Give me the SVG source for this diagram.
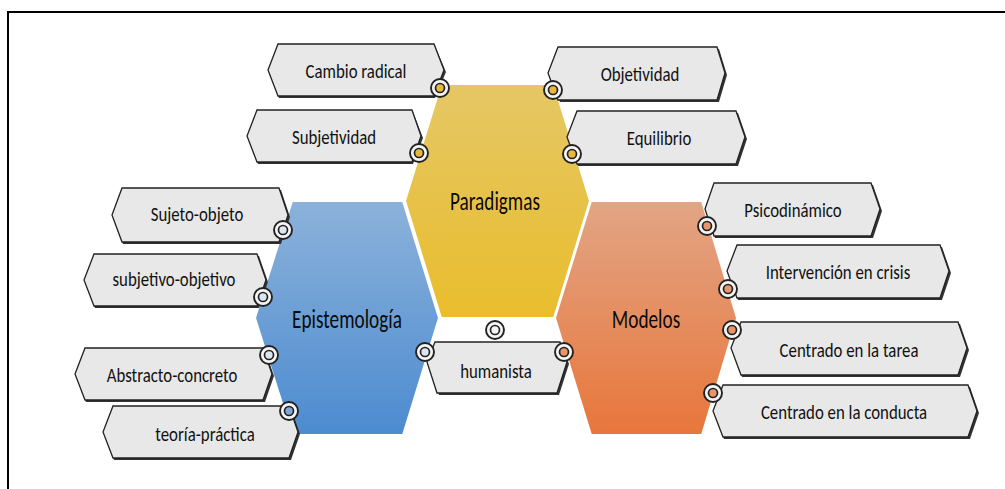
<svg xmlns="http://www.w3.org/2000/svg" width="1005" height="489" viewBox="0 0 1005 489">
<defs>
<linearGradient id="gY" x1="0" y1="0" x2="0" y2="1"><stop offset="0" stop-color="#E5C765"/><stop offset="1" stop-color="#E9BD2C"/></linearGradient>
<linearGradient id="gB" x1="0" y1="0" x2="0" y2="1"><stop offset="0" stop-color="#8CB2DA"/><stop offset="1" stop-color="#4C8BD0"/></linearGradient>
<linearGradient id="gO" x1="0" y1="0" x2="0" y2="1"><stop offset="0" stop-color="#E2A585"/><stop offset="1" stop-color="#E8763B"/></linearGradient>
<style>
.hex{stroke:#fff;stroke-width:2}
.sh{fill:#333}
.bx{fill:#E8E8E8;stroke:#222;stroke-width:1.3}
.lb{font-family:Carlito,"Liberation Sans Narrow","DejaVu Sans Condensed","Liberation Sans",sans-serif;font-size:20.5px;fill:#111;text-anchor:middle;dominant-baseline:central}
.ht{font-family:Carlito,"Liberation Sans Narrow","DejaVu Sans Condensed","Liberation Sans",sans-serif;font-size:26px;fill:#0a0a0a;text-anchor:middle;dominant-baseline:central}
.co{fill:#F4F4F4;stroke:#222;stroke-width:1.9}
.ci{stroke:#222;stroke-width:1.7}
</style>
</defs>
<rect x="0" y="0" width="1005" height="489" fill="#fff"/>
<rect x="8" y="12" width="1010" height="490" fill="none" stroke="#000" stroke-width="2"/>

<g id="paradigmas">
<polygon class="hex" fill="url(#gY)" points="405,201 441,84 554,84 590,201 554,318 441,318"/>
<text class="ht" transform="translate(495,201) scale(0.74,1)">Paradigmas</text>
</g>
<g id="epistemologia">
<polygon class="hex" fill="url(#gB)" points="255,318 292,201 403,201 439,318 403,435 292,435"/>
<text class="ht" transform="translate(347,319) scale(0.74,1)">Epistemología</text>
</g>
<g id="modelos">
<polygon class="hex" fill="url(#gO)" points="555,318 591,201 702,201 737,318 702,435 591,435"/>
<text class="ht" transform="translate(646,319) scale(0.74,1)">Modelos</text>
</g>

<g id="connectors">
<g id="n-cambio"><polygon class="sh" points="279,46 435,46 446,72 435,98 279,98 270,72"/><polygon class="bx" points="278,44 434,44 444,70 434,96 278,96 268,70"/><text class="lb" transform="translate(356,71) scale(0.82,1)">Cambio radical</text></g>
<g id="n-subjetividad"><polygon class="sh" points="258,112 413,112 423,138 413,164 258,164 249,138"/><polygon class="bx" points="257,110 412,110 421,136 412,162 257,162 247,136"/><text class="lb" transform="translate(334,137) scale(0.82,1)">Subjetividad</text></g>
<g id="n-objetividad"><polygon class="sh" points="560,49 719,49 727,75 719,102 560,102 550,75"/><polygon class="bx" points="558,47 717,47 725,73 717,100 558,100 548,73"/><text class="lb" transform="translate(640,74) scale(0.82,1)">Objetividad</text></g>
<g id="n-equilibrio"><polygon class="sh" points="578,113 738,113 747,139 738,166 578,166 569,139"/><polygon class="bx" points="577,111 736,111 745,137 736,164 577,164 567,137"/><text class="lb" transform="translate(659,138) scale(0.82,1)">Equilibrio</text></g>
<g id="n-sujeto"><polygon class="sh" points="123,190 281,190 290,217 281,244 123,244 114,217"/><polygon class="bx" points="122,188 279,188 288,215 279,242 122,242 112,215"/><text class="lb" transform="translate(197,214) scale(0.82,1)">Sujeto-objeto</text></g>
<g id="n-subjetivo"><polygon class="sh" points="95,256 259,256 268,282 259,308 95,308 86,282"/><polygon class="bx" points="94,254 257,254 266,280 257,306 94,306 84,280"/><text class="lb" transform="translate(174,279) scale(0.82,1)">subjetivo-objetivo</text></g>
<g id="n-abstracto"><polygon class="sh" points="86,350 265,350 274,376 265,402 86,402 77,376"/><polygon class="bx" points="85,348 263,348 272,374 263,400 85,400 75,374"/><text class="lb" transform="translate(172,375) scale(0.82,1)">Abstracto-concreto</text></g>
<g id="n-teoria"><polygon class="sh" points="114,408 291,408 300,434 291,460 114,460 105,434"/><polygon class="bx" points="113,406 289,406 298,432 289,458 113,458 103,432"/><text class="lb" transform="translate(205,434) scale(0.82,1)">teoría-práctica</text></g>
<g id="n-humanista"><polygon class="sh" points="437,344 562,344 569,364 559,395 439,395 429,364"/><polygon class="bx" points="435,342 560,342 567,362 557,393 437,393 427,362"/><text class="lb" transform="translate(496,371) scale(0.82,1)">humanista</text></g>
<g id="n-psico"><polygon class="sh" points="715,185 873,185 882,211 873,238 715,238 707,211"/><polygon class="bx" points="714,183 871,183 880,209 871,236 714,236 705,209"/><text class="lb" transform="translate(793,210) scale(0.82,1)">Psicodinámico</text></g>
<g id="n-intervencion"><polygon class="sh" points="738,247 942,247 951,273 942,300 738,300 729,273"/><polygon class="bx" points="737,245 940,245 949,271 940,298 737,298 727,271"/><text class="lb" transform="translate(838,272) scale(0.82,1)">Intervención en crisis</text></g>
<g id="n-tarea"><polygon class="sh" points="742,324 960,324 969,350 960,377 742,377 733,350"/><polygon class="bx" points="741,322 958,322 967,348 958,375 741,375 731,348"/><text class="lb" transform="translate(849,350) scale(0.82,1)">Centrado en la tarea</text></g>
<g id="n-conducta"><polygon class="sh" points="724,387 970,387 979,413 970,439 724,439 715,413"/><polygon class="bx" points="723,385 968,385 977,411 968,437 723,437 713,411"/><text class="lb" transform="translate(844,412) scale(0.82,1)">Centrado en la conducta</text></g>

<g id="dots">
<circle class="co" cx="440" cy="88" r="9"/><circle class="ci" cx="440" cy="88" r="4.5" fill="#E8B83A"/>
<circle class="co" cx="419" cy="153" r="9"/><circle class="ci" cx="419" cy="153" r="4.5" fill="#E8B83A"/>
<circle class="co" cx="553" cy="90" r="9"/><circle class="ci" cx="553" cy="90" r="4.5" fill="#E8B83A"/>
<circle class="co" cx="572" cy="154" r="9"/><circle class="ci" cx="572" cy="154" r="4.5" fill="#E8B83A"/>
<circle class="co" cx="283" cy="230" r="9"/><circle class="ci" cx="283" cy="230" r="4.5" fill="#DDE6F0"/>
<circle class="co" cx="263" cy="297" r="9"/><circle class="ci" cx="263" cy="297" r="4.5" fill="#DDE6F0"/>
<circle class="co" cx="269" cy="355" r="9"/><circle class="ci" cx="269" cy="355" r="4.5" fill="#DDE6F0"/>
<circle class="co" cx="289" cy="411" r="9"/><circle class="ci" cx="289" cy="411" r="4.5" fill="#7FA8D6"/>
<circle class="co" cx="425" cy="352" r="9"/><circle class="ci" cx="425" cy="352" r="4.5" fill="#DDE6F0"/>
<circle class="co" cx="495" cy="330" r="9"/><circle class="ci" cx="495" cy="330" r="4.5" fill="#F4F4F4"/>
<circle class="co" cx="564" cy="352" r="9"/><circle class="ci" cx="564" cy="352" r="4.5" fill="#E8956A"/>
<circle class="co" cx="707" cy="226" r="9"/><circle class="ci" cx="707" cy="226" r="4.5" fill="#E8956A"/>
<circle class="co" cx="728" cy="289" r="9"/><circle class="ci" cx="728" cy="289" r="4.5" fill="#E8956A"/>
<circle class="co" cx="732" cy="330" r="9"/><circle class="ci" cx="732" cy="330" r="4.5" fill="#E8956A"/>
<circle class="co" cx="713" cy="393" r="9"/><circle class="ci" cx="713" cy="393" r="4.5" fill="#E8956A"/>
</g>
</g>
</svg>
